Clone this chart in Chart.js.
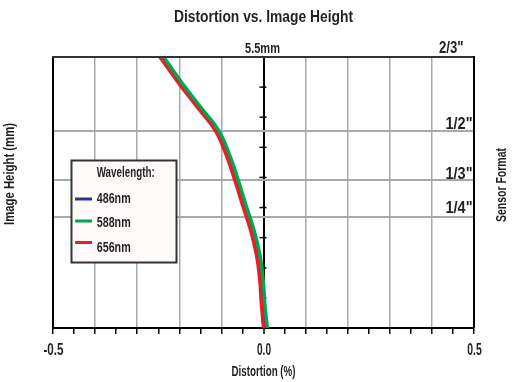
<!DOCTYPE html>
<html>
<head>
<meta charset="utf-8">
<script src="https://cdn.jsdelivr.net/npm/chart.js@4.4.1/dist/chart.umd.min.js"></script>
<style>
  html, body { margin: 0; padding: 0; background: #ffffff; }
  #wrap { width: 514px; height: 382px; }
</style>
</head>
<body>
<div id="wrap"><canvas id="c" width="514" height="382"></canvas></div>
<script>
// ---- data ----
const heights = [0, 0.5, 1.0, 1.5, 2.0, 2.5, 3.0, 3.5, 4.0, 4.5, 5.0, 5.5];          // image height (mm)
const dist486 = [0.004, -0.001, -0.005, -0.013, -0.027, -0.046, -0.064, -0.084, -0.110, -0.155, -0.200, -0.242];
const dist588 = [0.009, 0.003, -0.001, -0.009, -0.023, -0.042, -0.060, -0.080, -0.106, -0.151, -0.196, -0.237];
const dist656 = [0.000, -0.005, -0.009, -0.017, -0.031, -0.050, -0.068, -0.088, -0.114, -0.159, -0.204, -0.246];
const wavelengths = ['486nm', '588nm', '656nm'];
const xTickValues = [-0.5, 0, 0.5];
const xTickLabels = ['-0.5', '0.0', '0.5'];
const sensorFormats = ['2/3"', '1/2"', '1/3"', '1/4"'];
const sensorHeights = [5.5, 4.0, 3.0, 2.25];
const centerTickHeights = [0.611, 1.222, 1.833, 2.444, 3.056, 3.667, 4.278, 4.889];
const topLabel = '5.5mm';

const FONT = '"Liberation Sans", Arial, sans-serif';
Chart.defaults.font.family = FONT;

const toPts = arr => arr.map((v, i) => ({ x: v, y: heights[i] }));
const near = (a, b) => Math.abs(a - b) < 1e-6;

// draw text condensed horizontally to a given width (the reference uses a condensed face)
function fitText(ctx, text, x, y, width, align) {
  ctx.save();
  ctx.textAlign = align;
  const w = ctx.measureText(text).width;
  ctx.translate(x, y);
  ctx.scale(width / w, 1);
  ctx.fillText(text, 0, 0);
  ctx.restore();
}

const overlay = {
  id: 'overlay',
  beforeDatasetsDraw(chart) {
    const ctx = chart.ctx, xs = chart.scales.x, ys = chart.scales.y;
    const x0 = xs.getPixelForValue(0);
    ctx.save();
    ctx.strokeStyle = '#000';
    ctx.lineWidth = 1.5;
    centerTickHeights.forEach(h => {
      const y = ys.getPixelForValue(h);
      ctx.beginPath();
      ctx.moveTo(x0 - 4, y);
      ctx.lineTo(x0 + 3, y);
      ctx.stroke();
    });
    ctx.restore();
  },
  afterDraw(chart) {
    const ctx = chart.ctx, xs = chart.scales.x, ys = chart.scales.y, a = chart.chartArea;
    ctx.save();
    // top & right border
    ctx.strokeStyle = '#333';
    ctx.lineWidth = 2;
    ctx.beginPath();
    ctx.moveTo(a.left - 1, a.top);
    ctx.lineTo(a.right, a.top);
    ctx.stroke();
    ctx.strokeStyle = '#000';
    ctx.beginPath();
    ctx.moveTo(a.right, a.top - 1);
    ctx.lineTo(a.right, a.bottom);
    ctx.stroke();

    ctx.fillStyle = '#231f20';
    ctx.textBaseline = 'alphabetic';
    // title
    ctx.font = 'bold 16px ' + FONT;
    fitText(ctx, 'Distortion vs. Image Height', 263.5, 22, 179, 'center');

    // 5.5mm label
    ctx.font = 'bold 14px ' + FONT;
    fitText(ctx, topLabel, xs.getPixelForValue(0) - 1, 53, 35, 'center');

    // sensor format labels
    ctx.font = 'bold 16px ' + FONT;
    const off = [-3.7, -2.4, -1.5, -4.5];
    const rightEdge = [463.5, 472.5, 472.5, 472.5];
    sensorFormats.forEach((t, i) => {
      const y = ys.getPixelForValue(sensorHeights[i]);
      fitText(ctx, t, rightEdge[i], y + off[i], i === 0 ? 24.5 : 27, 'right');
    });

    // x tick labels
    ctx.font = 'bold 16px ' + FONT;
    const tw = [20, 14, 14.5];
    xTickValues.forEach((v, i) => {
      fitText(ctx, xTickLabels[i], xs.getPixelForValue(v) + 0.5, 355, tw[i], 'center');
    });

    // axis titles
    ctx.font = 'bold 15px ' + FONT;
    fitText(ctx, 'Distortion (%)', xs.getPixelForValue(0), 376, 64, 'center');
    ctx.save();
    ctx.translate(14, 174);
    ctx.rotate(-Math.PI / 2);
    fitText(ctx, 'Image Height (mm)', 0, 0, 102, 'center');
    ctx.restore();
    ctx.save();
    ctx.translate(505.5, 185);
    ctx.rotate(-Math.PI / 2);
    fitText(ctx, 'Sensor Format', 0, 0, 74, 'center');
    ctx.restore();

    // legend box
    const bx = 71.5, by = 160.5, bw = 105, bh = 102;
    ctx.fillStyle = '#fffafa';
    ctx.fillRect(bx, by, bw, bh);
    ctx.strokeStyle = '#333';
    ctx.lineWidth = 2;
    ctx.strokeRect(bx, by, bw, bh);
    ctx.fillStyle = '#231f20';
    ctx.font = 'bold 15px ' + FONT;
    fitText(ctx, 'Wavelength:', 96.7, 176.5, 58, 'left');
    const lineY = [199, 221, 242.5];
    const textY = [202.5, 227, 252];
    wavelengths.forEach((name, k) => {
      const ds = chart.data.datasets.find(d => d.label === name);
      ctx.strokeStyle = ds.borderColor;
      ctx.lineWidth = 3;
      ctx.beginPath();
      ctx.moveTo(75, lineY[k]);
      ctx.lineTo(92, lineY[k]);
      ctx.stroke();
      ctx.fillStyle = '#231f20';
      fitText(ctx, name, 96.7, textY[k], 34, 'left');
    });
    ctx.restore();
  }
};

new Chart(document.getElementById('c'), {
  type: 'scatter',
  data: {
    datasets: [
      { label: '588nm', data: toPts(dist588), borderColor: '#00a651', borderWidth: 3.5 },
      { label: '656nm', data: toPts(dist656), borderColor: '#ed1c24', borderWidth: 3.5 },
      { label: '486nm', data: toPts(dist486), borderColor: '#2e3192', borderWidth: 2 }
    ].map(d => Object.assign(d, { showLine: true, pointRadius: 0, tension: 0.4, fill: false }))
  },
  options: {
    responsive: false,
    devicePixelRatio: 1,
    animation: false,
    layout: { padding: { left: 53, right: 40, top: 57, bottom: 48 } },
    plugins: { legend: { display: false }, title: { display: false }, tooltip: { enabled: false } },
    scales: {
      x: {
        type: 'linear', min: -0.5, max: 0.5,
        ticks: { display: false, stepSize: 0.05, autoSkip: false },
        grid: {
          color: c => {
            const v = c.tick.value;
            if (near(v, 0) || near(v, -0.5) || near(v, 0.5)) return '#000';
            return near(Math.round(v * 10) / 10, v) ? '#a7a9ac' : 'rgba(0,0,0,0)';
          },
          lineWidth: c => (near(c.tick.value, 0) ? 2 : 1.5),
          tickColor: '#000', tickLength: 6, tickWidth: 1.5, drawTicks: true
        },
        border: { display: true, color: '#000', width: 2 }
      },
      y: {
        type: 'linear', min: 0, max: 5.5,
        afterBuildTicks: s => { s.ticks = sensorHeights.map(v => ({ value: v })); },
        ticks: { display: false },
        grid: { color: c => (near(c.tick.value, 5.5) ? '#333' : '#a7a9ac'), lineWidth: 2, drawTicks: false },
        border: { display: true, color: '#000', width: 2 }
      }
    }
  },
  plugins: [overlay]
});
</script>
</body>
</html>
